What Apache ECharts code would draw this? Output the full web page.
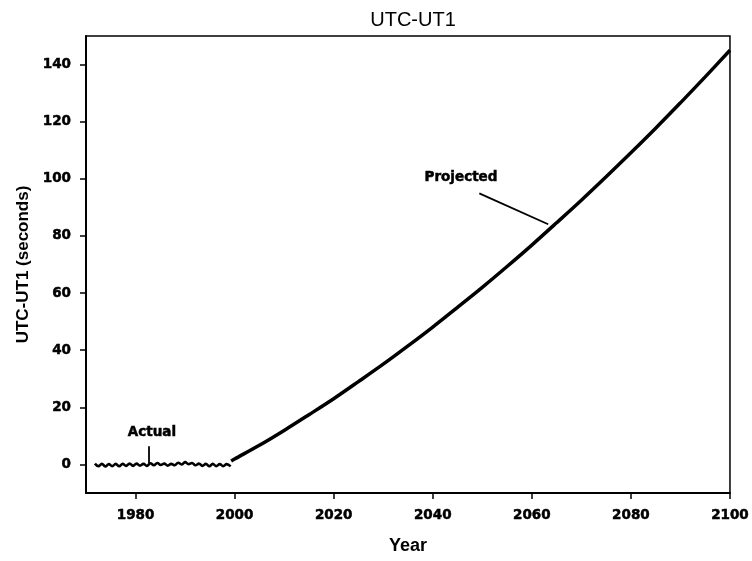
<!DOCTYPE html>
<html>
<head>
<meta charset="utf-8">
<script src="https://cdn.jsdelivr.net/npm/echarts@6/dist/echarts.min.js"></script>
<style>html,body{margin:0;padding:0;background:#fff}#c{width:752px;height:561px}</style>
</head>
<body>
<div id="c"></div>
<script>
// ---- data ----
const actualYears = [1971.8,1972.5,1973.2,1973.9,1974.6,1975.3,1976.0,1976.7,1977.4,1978.1,1978.8,1979.5,1980.2,1980.9,1981.6,1982.3,1983.0,1983.7,1984.4,1985.1,1985.8,1986.5,1987.2,1987.9,1988.6,1989.3,1990.0,1990.7,1991.4,1992.1,1992.8,1993.5,1994.2,1994.9,1995.6,1996.3,1997.0,1997.7,1998.4,1999.2];
const actualValues = [0.3,-0.6,0.2,-0.7,0.1,-0.6,0.2,-0.6,0.2,-0.5,0.3,-0.5,0.3,-0.4,0.2,-0.5,0.4,-0.3,0.5,-0.2,0.3,-0.4,0.2,-0.3,0.6,0.0,0.8,0.1,0.5,-0.3,0.3,-0.5,0.2,-0.6,0.2,-0.6,0.1,-0.6,0.1,-0.7];
const projYears = [1999.3,2000,2005,2010,2015,2020,2025,2030,2035,2040,2045,2050,2055,2060,2065,2070,2075,2080,2085,2090,2095,2100];
const projValues = [1.2,1.9,6.7,11.9,17.4,23.0,29.0,35.1,41.5,48.1,55.0,62.0,69.3,76.8,84.6,92.5,100.7,109.1,117.7,126.6,135.7,145.0];
const xTicks = [1980,2000,2020,2040,2060,2080,2100];
const yTicks = [0,20,40,60,80,100,120,140];
const annotations = [
  {text:'Actual', at:[1983.3,11.2], from:[1982.6,6.4], to:[1982.6,0.5]},
  {text:'Projected', at:[2045.7,100.5], from:[2049.4,94.9], to:[2063.3,84.1]}
];
// -------------------------------------

const font = '"Liberation Sans", Arial, Helvetica, sans-serif';
const wfont = '"DejaVu Sans", "Liberation Sans", sans-serif';
const heavy = {fontFamily:wfont, fontSize:13.5, fontWeight:'bold', color:'#000', textBorderColor:'#000', textBorderWidth:0.5};
const chart = echarts.init(document.getElementById('c'));
const zip = (xs, ys) => xs.map((x,i)=>[x, ys[i]]);

chart.setOption({
  animation:false,
  backgroundColor:'#fff',
  title:{text:'UTC-UT1', left:408, top:5, textAlign:'center',
    textStyle:{fontFamily:font, fontSize:20, fontWeight:'normal', color:'#000'}},
  grid:{left:86, top:36, right:21, bottom:68, show:true, borderColor:'#000', borderWidth:1.5},
  xAxis:{type:'value', min:1970, max:2100,
    name:'Year', nameLocation:'middle', nameGap:44,
    nameTextStyle:{fontFamily:font, fontSize:18, fontWeight:'bold', color:'#000'},
    axisLine:{show:true, onZero:false, lineStyle:{color:'#000', width:2}},
    axisTick:{show:true, inside:false, length:6, lineStyle:{color:'#000', width:1.5}, customValues:xTicks},
    axisLabel:Object.assign({margin:15, customValues:xTicks, formatter:v=>String(v)}, heavy),
    splitLine:{show:false}},
  yAxis:{type:'value', min:-10, max:150,
    name:'UTC-UT1 (seconds)', nameLocation:'middle', nameGap:53, nameRotate:90,
    nameTextStyle:{fontFamily:font, fontSize:17, fontWeight:'bold', color:'#000'},
    axisLine:{show:true, onZero:false, lineStyle:{color:'#000', width:2}},
    axisTick:{show:true, inside:false, length:6, lineStyle:{color:'#000', width:1.5}, customValues:yTicks},
    axisLabel:Object.assign({margin:15, customValues:yTicks, formatter:v=>String(v)}, heavy),
    splitLine:{show:false}},
  series:[
    {type:'line', data:zip(actualYears, actualValues), symbol:'none', smooth:0.4,
      lineStyle:{color:'#000', width:2.6}},
    {type:'line', data:zip(projYears, projValues), symbol:'none', smooth:0.3,
      lineStyle:{color:'#000', width:3.5}},
    {type:'line', data:[], symbol:'none',
      markLine:{silent:true, symbol:'none', label:{show:false},
        lineStyle:{color:'#000', width:1.8, type:'solid'},
        data:annotations.map(a=>[{coord:a.from},{coord:a.to}])},
      markPoint:{silent:true, symbol:'circle', symbolSize:0,
        label:Object.assign({show:true, position:'inside', formatter:p=>p.name}, heavy),
        data:annotations.map(a=>({name:a.text, coord:a.at}))}}
  ]
});
</script>
</body>
</html>
